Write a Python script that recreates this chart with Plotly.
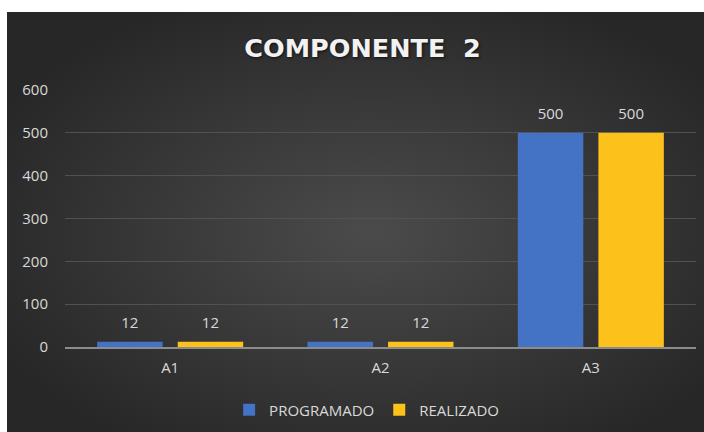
import base64

import plotly.graph_objects as go

categories = ["A1", "A2", "A3"]
programado = [12, 12, 500]
realizado = [12, 12, 500]
y_ticks = [0, 100, 200, 300, 400, 500, 600]

# radial dark background like the Excel chart style
bg_svg = """<svg xmlns='http://www.w3.org/2000/svg' width='700' height='420' preserveAspectRatio='none'>
<defs><radialGradient id='g' cx='52%' cy='52%' r='60%'>
<stop offset='0%' stop-color='#4b4b4b'/><stop offset='100%' stop-color='#272727'/>
</radialGradient></defs><rect width='700' height='420' fill='url(#g)'/></svg>"""
bg_uri = "data:image/svg+xml;base64," + base64.b64encode(bg_svg.encode()).decode()

L, R, T, B = 65, 8, 90, 85
W, H = 704, 432
pw, ph = W - L - R, H - T - B
LABEL_FONT = dict(color="#d9d9d9", size=15)
GAP = 0.234

fig = go.Figure()
series = [("PROGRAMADO", programado, "#4472c4"), ("REALIZADO", realizado, "#fcc11a")]
for name, vals, color in series:
    fig.add_trace(go.Bar(x=categories, y=vals, name=name, marker=dict(color=color, line_width=0)))
# value labels, grouped the same way as the bars
for name, vals, color in series:
    fig.add_trace(go.Scatter(
        x=categories, y=vals, mode="markers+text", text=vals, textposition="top center",
        marker=dict(size=14, opacity=0), textfont=LABEL_FONT, showlegend=False,
        hoverinfo="skip", cliponaxis=False,
    ))

fig.add_layout_image(
    source=bg_uri, xref="paper", yref="paper",
    x=(7 - L) / pw, y=(H - B - 12) / ph,
    sizex=(W + 4 - 7) / pw, sizey=(H + 4 - 12) / ph,
    sizing="stretch", xanchor="left", yanchor="top", layer="below",
)
# white strips on the left and top edges of the picture
fig.add_shape(type="rect", xref="paper", yref="paper", layer="below", line_width=0,
              fillcolor="white", x0=-L / pw, x1=(7 - L) / pw, y0=-B / ph, y1=(H - B) / ph)
fig.add_shape(type="rect", xref="paper", yref="paper", layer="below", line_width=0,
              fillcolor="white", x0=-L / pw, x1=(W - L) / pw, y0=(H - B - 12) / ph, y1=(H - B) / ph)

fig.update_layout(
    width=W, height=H,
    margin=dict(l=L, r=R, t=T, b=B, autoexpand=False),
    paper_bgcolor="#2a2a2a",
    plot_bgcolor="rgba(0,0,0,0)",
    font=dict(family="Open Sans, Liberation Sans, sans-serif", color="#d9d9d9", size=15),
    title=dict(
        text="<b>COMPONENTE  2</b>", x=0.515, xanchor="center", y=0.889, yanchor="middle",
        font=dict(family="DejaVu Sans", size=25.5, color="#f2f2f2", shadow="1px 1px 3px #111"),
    ),
    barmode="group", bargap=GAP, bargroupgap=0.1875,
    scattermode="group", scattergap=GAP,
    showlegend=True,
    legend=dict(orientation="h", x=0.478, xanchor="center", y=-0.245, yanchor="middle",
                bgcolor="rgba(0,0,0,0)", font=dict(size=15, color="#d9d9d9"), itemwidth=30),
)
fig.update_yaxes(
    range=[0, 600], tickvals=y_ticks, showgrid=True, gridcolor="#515151", gridwidth=1,
    zeroline=False, ticks="", ticklabelstandoff=16, tickfont=LABEL_FONT,
)
fig.update_xaxes(
    showline=True, linecolor="#8c8c8c", linewidth=2, ticks="",
    ticklabelstandoff=6, tickfont=LABEL_FONT,
)

fig.write_html("out.html", config={"displayModeBar": False},
               post_script="document.body.style.margin='0';")
